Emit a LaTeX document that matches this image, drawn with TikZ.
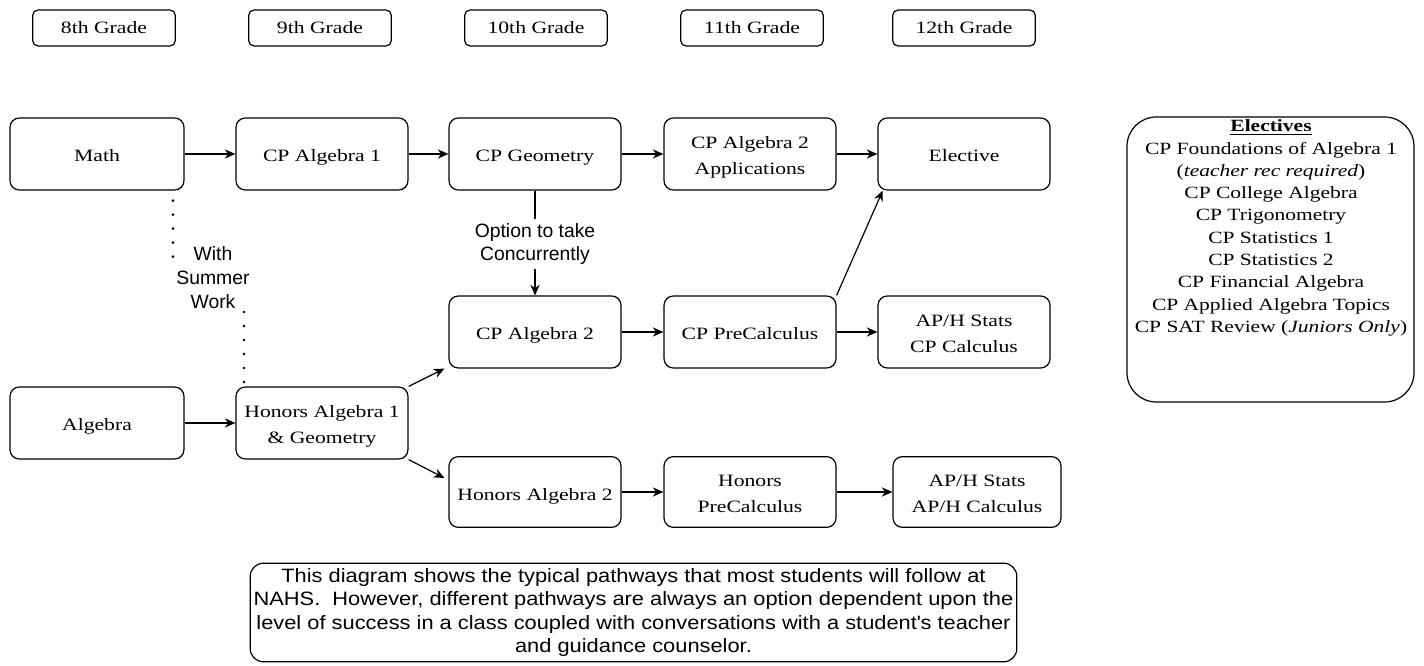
\documentclass[tikz,border=0pt]{standalone}
\usepackage{fontspec}
\setmainfont{Liberation Serif}[FakeStretch=1.25]
\setsansfont{Liberation Sans}
\newfontfamily\notefont{Liberation Sans}[FakeStretch=1.13]
\usetikzlibrary{arrows.meta}

\begin{document}
\begin{tikzpicture}[x=0.75pt, y=-0.75pt,
      grade/.style={draw, rounded corners=4pt, line width=0.9pt,
        minimum width=107pt, minimum height=27pt, font=\fontsize{13}{16}\selectfont},
      course/.style={draw, rounded corners=7pt, line width=0.9pt, align=center,
        minimum width=129pt, minimum height=54pt, font=\fontsize{13}{19.3}\selectfont,
        text height=30.7pt, text depth=0pt},
      single/.style={text height=12pt, text depth=0pt},
      arr/.style={-{Stealth[length=8pt,width=7pt]}, line width=0.9pt},
      sanslabel/.style={font=\sffamily\fontsize{14.5}{17.5}\selectfont, align=center},
      dots/.style={line width=2.2pt, line cap=round, dash pattern=on 0pt off 10.5pt}]
      \useasboundingbox (0,0) rectangle (1424,666);
      % grades
      \node[grade] (geight) at (104,28) {8th Grade};
      \node[grade] (gnine) at (320,28) {9th Grade};
      \node[grade] (gten) at (536,28) {10th Grade};
      \node[grade] (geleven) at (752,28) {11th Grade};
      \node[grade] (gtwelve) at (964,28) {12th Grade};
      % CP track
      \node[course, single, minimum width=130.5pt] (math) at (97,154) {Math};
      \node[course, single] (cpalgone) at (322,154) {CP Algebra 1};
      \node[course, single] (cpgeo) at (535,154) {CP Geometry};
      \node[course] (cpalgtwoapp) at (750,154) {CP Algebra 2\\Applications};
      \node[course, single] (elective) at (964,154) {Elective};
      \node[course, single] (cpalgtwo) at (535,332) {CP Algebra 2};
      \node[course, single] (cpprecalc) at (750,332) {CP PreCalculus};
      \node[course] (cpstatscalc) at (964,332) {AP/H Stats\\CP Calculus};
      % honors track
      \node[course, single, minimum width=130.5pt] (algebra) at (97,423) {Algebra};
      \node[course] (honalgone) at (322,423) {Honors Algebra 1\\\& Geometry};
      \node[course, single, minimum height=53pt] (honalgtwo) at (535,492) {Honors Algebra 2};
      \node[course, minimum height=53pt] (honprecalc) at (750,492) {Honors\\PreCalculus};
      \node[course, minimum width=126pt, minimum height=53pt] (honstatscalc) at (977,492) {AP/H Stats\\AP/H Calculus};
      % arrows
      \draw[arr] (math) -- (cpalgone);
      \draw[arr] (cpalgone) -- (cpgeo);
      \draw[arr] (cpgeo) -- (cpalgtwoapp);
      \draw[arr] (cpalgtwoapp) -- (elective);
      \draw[arr] (cpalgtwo) -- (cpprecalc);
      \draw[arr] (cpprecalc) -- (cpstatscalc);
      \draw[arr] (cpprecalc.north east) -- ([xshift=4pt]elective.south west);
      \draw[arr] (algebra) -- (honalgone);
      \draw[arr] (honalgone.north east) -- ([xshift=-3pt]cpalgtwo.south west);
      \draw[arr] (honalgone.south east) -- ([xshift=-3pt,yshift=10.5pt]honalgtwo.west);
      \draw[arr] (honalgtwo) -- (honprecalc);
      \draw[arr] (honprecalc) -- (honstatscalc);
      % concurrent option
      \node[sanslabel, fill=white] (concur) at (535,244) {Option to take\\Concurrently};
      \draw[line width=0.9pt] (cpgeo) -- (concur);
      \draw[arr] (concur) -- (cpalgtwo);
      % summer work
      \node[sanslabel, font=\sffamily\fontsize{14.5}{18}\selectfont] (summer) at (213,278) {With\\Summer\\Work};
      \coordinate (dota) at (173,260);
      \coordinate (dotb) at (244,312);
      \draw[dots] ([yshift=-7.5pt]math.south -| dota) -- (dota);
      \draw[dots] (dotb) -- (honalgone.north -| dotb);
      % electives
      \draw[line width=0.9pt, rounded corners=22pt] (1127,117) rectangle (1414,402);
      \node[align=center, font=\fontsize{12.9}{16.7}\selectfont] (electlist) at (1271,228)
        {\textbf{\underline{Electives}}\\CP Foundations of Algebra 1\\(\textit{teacher rec required})\\
         CP College Algebra\\CP Trigonometry\\CP Statistics 1\\CP Statistics 2\\
         CP Financial Algebra\\CP Applied Algebra Topics\\CP SAT Review (\textit{Juniors Only})};
      % note
      \node[align=center, font=\notefont\fontsize{14.5}{17.6}\selectfont, draw, line width=0.9pt,
        rounded corners=10pt, minimum width=575pt, minimum height=74pt, inner sep=1pt]
        (pathways) at (633.5,612.5)
        {This diagram shows the typical pathways that most students will follow at\\
         NAHS.\ \ However, different pathways are always an option dependent upon the\\
         level of success in a class coupled with conversations with a student\textquotesingle s teacher\\
         and guidance counselor.};
\end{tikzpicture}
\end{document}
